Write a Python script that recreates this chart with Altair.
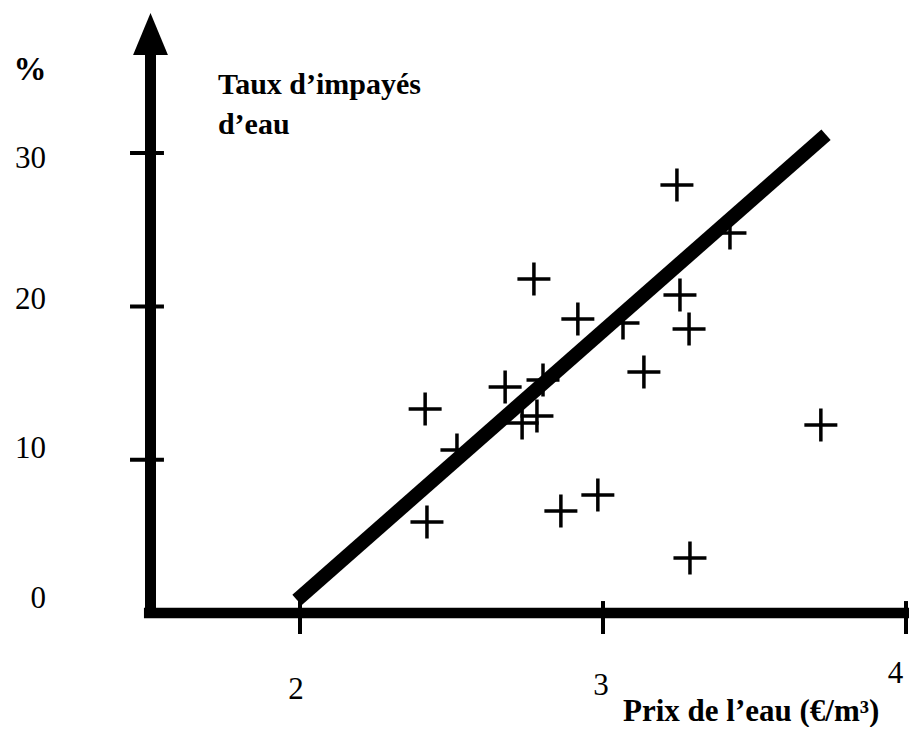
import altair as alt
import pandas as pd

# ---- data ----
price = [3.244, 3.419, 2.772, 3.254, 2.917, 3.284, 3.066, 3.135, 2.802, 2.677,
         2.782, 2.733, 2.413, 2.518, 2.419, 2.861, 2.983, 3.287, 3.719]
unpaid = [27.92, 24.79, 21.79, 20.74, 19.18, 18.53, 18.92, 15.72, 15.20, 14.74,
          12.85, 12.39, 13.31, 10.63, 5.94, 6.65, 7.70, 3.59, 12.26]

fit_x = [1.99, 3.736]
fit_y = [0.85, 31.2]

x_ticks = [2, 3, 4]
x_tick_labels = ["2", "3", "4"]
x_label_x = [1.987, 2.993, 3.965]
x_label_y = [-5.61, -5.35, -4.57]

y_ticks = [10, 20, 30]
y_tick_labels = ["0", "10", "20", "30"]
y_label_y = [0.33, 10.11, 19.83, 29.03]
y_label_x = 1.162

x_title = "Prix de l\u2019eau (\u20ac/m\u00b3)"
y_title = ["Taux d\u2019impay\u00e9s", "d\u2019eau"]
unit = "%"

# ---- scales ----
W, H = 901, 719
XS = alt.Scale(domain=[1.0363, 1.0363 + W / 303.0], nice=False, zero=False)
YS = alt.Scale(domain=[39.465 - H / 15.33, 39.465], nice=False, zero=False)
FONT = "Liberation Serif"


def X(f="x"):
    return alt.X(f + ":Q", scale=XS, axis=None)


def Y(f="y"):
    return alt.Y(f + ":Q", scale=YS, axis=None)


# axis lines
yaxis_df = pd.DataFrame({"x": [1.5066], "y": [-0.33], "y2": [37.0]})
yaxis = alt.Chart(yaxis_df).mark_rule(color="black", strokeWidth=11, strokeCap="butt").encode(
    x=X(), y=Y(), y2="y2:Q")

xaxis_df = pd.DataFrame({"x": [1.485], "x2": [4.04], "y": [0.0]})
xaxis = alt.Chart(xaxis_df).mark_rule(color="black", strokeWidth=10.5, strokeCap="butt").encode(
    x=X(), x2="x2:Q", y=Y())

arrow_df = pd.DataFrame({"x": [1.5066], "y": [37.77]})
arrow = alt.Chart(arrow_df).mark_point(
    shape="M0,-1L0.83,1L-0.83,1Z", size=1764, filled=True, color="black", opacity=1
).encode(x=X(), y=Y())

ytick_df = pd.DataFrame({"y": y_ticks, "x": [1.439] * 3, "x2": [1.551] * 3})
yticks = alt.Chart(ytick_df).mark_rule(color="black", strokeWidth=4).encode(
    x=X(), x2="x2:Q", y=Y())

xtick_df = pd.DataFrame({"x": x_ticks, "y": [0.78] * 3, "y2": [-1.37] * 3})
xticks = alt.Chart(xtick_df).mark_rule(color="black", strokeWidth=4).encode(
    x=X(), y=Y(), y2="y2:Q")

# regression line
fit_df = pd.DataFrame({"x": fit_x, "y": fit_y})
fit = alt.Chart(fit_df).mark_line(color="black", strokeWidth=14, strokeCap="butt").encode(
    x=X(), y=Y())

# points
pts_df = pd.DataFrame({"x": price, "y": unpaid})
pts = alt.Chart(pts_df).mark_point(
    shape="M-1,0H1M0,-1V1", size=1089, filled=False, color="black",
    strokeWidth=3.5, opacity=1
).encode(x=X(), y=Y())

# labels
ylab_df = pd.DataFrame({"t": y_tick_labels, "y": y_label_y, "x": [y_label_x] * 4})
ylabs = alt.Chart(ylab_df).mark_text(
    font=FONT, fontSize=31, align="right", baseline="alphabetic", color="black"
).encode(x=X(), y=Y(), text="t:N")

xlab_df = pd.DataFrame({"t": x_tick_labels, "x": x_label_x, "y": x_label_y})
xlabs = alt.Chart(xlab_df).mark_text(
    font=FONT, fontSize=31, align="center", baseline="alphabetic", color="black"
).encode(x=X(), y=Y(), text="t:N")

unit_df = pd.DataFrame({"t": [unit], "x": [1.109], "y": [34.77]})
unit_t = alt.Chart(unit_df).mark_text(
    font=FONT, fontSize=33, fontWeight="bold", align="center", baseline="alphabetic", color="black"
).encode(x=X(), y=Y(), text="t:N")

ytitle = alt.Chart(pd.DataFrame({"x": [1.729], "y": [33.86]})).mark_text(
    font=FONT, fontSize=30, fontWeight="bold", align="left", baseline="alphabetic",
    color="black", text=y_title, lineHeight=40
).encode(x=X(), y=Y())

xtitle_df = pd.DataFrame({"t": [x_title], "x": [3.066], "y": [-7.05]})
xtitle = alt.Chart(xtitle_df).mark_text(
    font=FONT, fontSize=31, fontWeight="bold", align="left", baseline="alphabetic", color="black"
).encode(x=X(), y=Y(), text="t:N")

chart = alt.layer(
    yaxis, xaxis, arrow, yticks, xticks, fit, pts, ylabs, xlabs, unit_t, ytitle, xtitle
).properties(
    width=W, height=H, autosize=alt.AutoSizeParams(type="none"), padding=0,
    background="white"
).configure_view(stroke=None)

chart.save("out.html", embed_options={"renderer": "svg", "actions": False})
